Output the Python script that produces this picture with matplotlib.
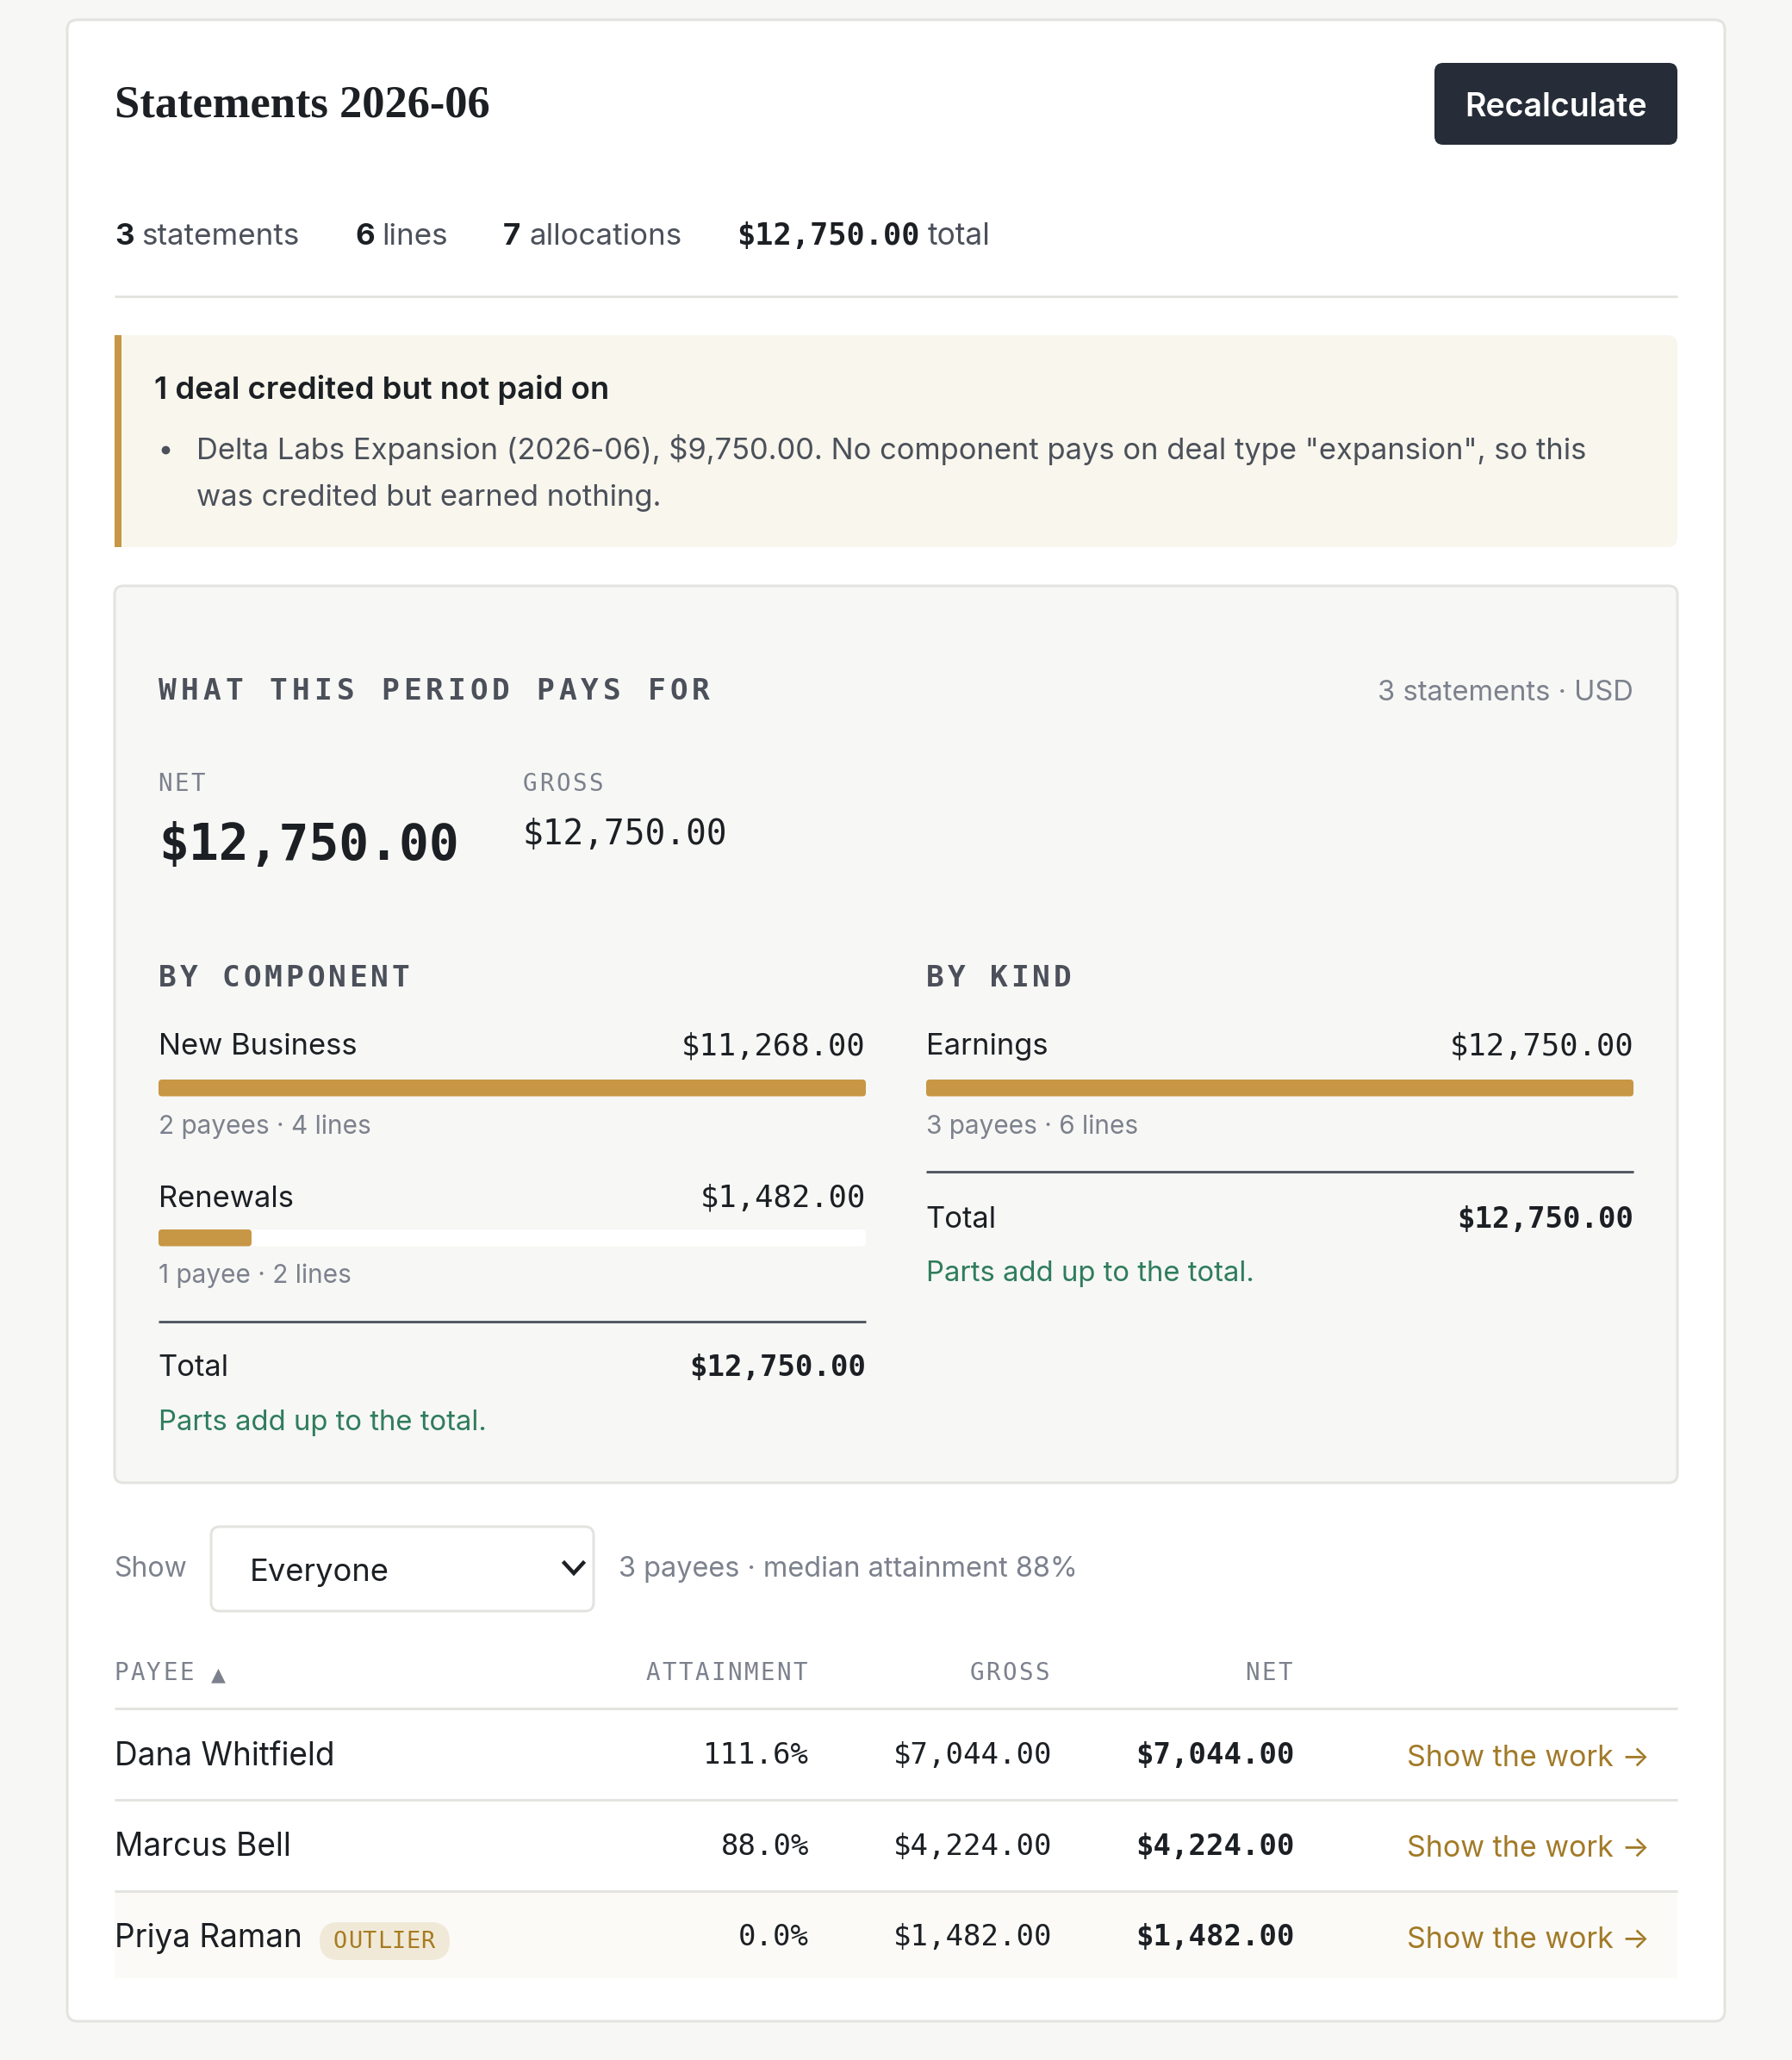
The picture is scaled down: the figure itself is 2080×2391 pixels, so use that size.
import matplotlib
matplotlib.use('Agg')
import matplotlib.pyplot as plt
from matplotlib.patches import FancyBboxPatch, Rectangle

# values
metric_counts = ['3', '6', '7']
metric_words = ['statements', 'lines', 'allocations']
period_total = 12750.00
period_net = 12750.00
period_gross = 12750.00

component_names = ['New Business', 'Renewals']
component_values = [11268.00, 1482.00]
component_notes = ['2 payees · 4 lines', '1 payee · 2 lines']

kind_names = ['Earnings']
kind_values = [12750.00]
kind_notes = ['3 payees · 6 lines']

payee_names = ['Dana Whitfield', 'Marcus Bell', 'Priya Raman']
payee_attainment = [111.6, 88.0, 0.0]
payee_gross = [7044.00, 4224.00, 1482.00]
payee_net = [7044.00, 4224.00, 1482.00]

PAGE = '#f7f7f5'
INK = '#1c2024'
BODY = '#4b505a'
MUTED = '#7c818d'
LINE = '#e3e3e0'
GOLD = '#c79745'
LINK = '#a27a28'
GREEN = '#2f7d5c'
SANS = 'Inter'
MONO = 'DejaVu Sans Mono'

fig = plt.figure(figsize=(2080 / 100, 2391 / 100), dpi=100, facecolor=PAGE)
ax = fig.add_axes([0, 0, 1, 1])
ax.set_xlim(0, 2080)
ax.set_ylim(2391, 0)
ax.axis('off')


def money(v):
    return f'${v:,.2f}'


def label(x, y, s, px, color=INK, family=SANS, weight='normal', ha='left'):
    return ax.text(x, y, s, fontsize=px * 0.72, color=color, family=family,
                   weight=weight, ha=ha, va='baseline')


def spaced(x, y, s, px, advance, color=MUTED, weight='normal', right=False):
    # matplotlib has no letter-spacing, so the mono caps go one by one
    if right:
        x = x - advance * (len(s) - 1) - px * 0.602
    for i, c in enumerate(s):
        if c != ' ':
            label(x + i * advance, y, c, px, color, MONO, weight)


def box(x0, y0, x1, y1, r, face, edge='none', lw=0):
    p = FancyBboxPatch((x0, y0), x1 - x0, y1 - y0, boxstyle=f'round,pad=0,rounding_size={r}',
                       facecolor=face, edgecolor=edge, linewidth=lw * 0.72)
    ax.add_patch(p)


def hline(x0, x1, y, color=LINE, lw=3):
    ax.plot([x0, x1], [y, y], color=color, lw=lw * 0.72, solid_capstyle='butt')


def breakdown(x0, x1, title, names, values, notes, rows, divider, total_y, ok_y):
    spaced(x0, 1145, title, 34.5, 24.6, color=BODY, weight='bold')
    top = max(values)
    for name, value, note, (name_y, bar_y, note_y) in zip(names, values, notes, rows):
        label(x0, name_y, name, 34.5)
        label(x1, name_y, money(value), 35.5, family=MONO, ha='right')
        box(x0, bar_y, x1, bar_y + 19.5, 4, 'white')
        box(x0, bar_y, x0 + (x1 - x0) * value / top, bar_y + 19.5, 4, GOLD)
        label(x0, note_y, note, 29.8, color=MUTED)
    hline(x0, x1, divider, color='#555a66')
    label(x0 - 1, total_y, 'Total', 34.5)
    label(x1, total_y, money(sum(values)), 34, family=MONO, weight='bold', ha='right')
    label(x0, ok_y, 'Parts add up to the total.', 32.8, color=GREEN)


# card
box(78, 23, 2002, 2346, 12, 'white', edge=LINE, lw=3)

# header
label(133, 135, 'Statements 2026-06', 52.5, family='Liberation Serif', weight='bold')
box(1665, 73, 1947, 168, 10, '#262d38')
label(1806, 135, 'Recalculate', 37.5, color='white', weight='semibold', ha='center')

# counts strip
for x, n, x2, w in zip([133, 412, 584], metric_counts, [164, 443, 615], metric_words):
    label(x, 284, n, 35, weight='bold')
    label(x2, 284, w, 35, color=BODY)
label(855, 284, money(period_total), 35.2, family=MONO, weight='bold')
label(1077, 284, 'total', 35.4, color=BODY)
hline(133, 1947, 344)

# alert
box(133, 389, 1947, 635, 12, '#f8f6ed')
ax.add_patch(Rectangle((133, 389), 8, 246, facecolor=GOLD, edgecolor='none'))
label(179, 463, '1 deal credited but not paid on', 36.4, weight='semibold')
ax.plot([192], [522], 'o', color=BODY, ms=6)
label(228, 533, 'Delta Labs Expansion (2026-06), $9,750.00. No component pays on deal type "expansion", so this', 34.5, color=BODY)
label(228, 587, 'was credited but earned nothing.', 34.5, color=BODY)

# summary panel
box(133, 680, 1947, 1721, 10, PAGE, edge=LINE, lw=3)
spaced(184, 812, 'WHAT THIS PERIOD PAYS FOR', 34.5, 25.8, color=BODY, weight='bold')
label(1896, 813, '3 statements · USD', 32.7, color=MUTED, ha='right')
spaced(183, 918, 'NET', 27.5, 19)
spaced(607, 918, 'GROSS', 27.5, 19)
label(184, 998.5, money(period_net), 58, family=MONO, weight='bold')
label(606, 980, money(period_gross), 39.5, family=MONO)

breakdown(184, 1005, 'BY COMPONENT', component_names, component_values, component_notes,
          [(1224, 1253, 1316), (1401, 1427, 1489)], 1534, 1597, 1660)
breakdown(1075, 1896, 'BY KIND', kind_names, kind_values, kind_notes,
          [(1224, 1253, 1316)], 1360, 1425, 1486.5)

# filter row
label(132, 1830, 'Show', 32, color=MUTED)
box(245, 1772, 689, 1870, 10, 'white', edge=LINE, lw=3)
label(290, 1835, 'Everyone', 36.3)
ax.plot([655, 666, 677], [1814, 1826, 1814], color=INK, lw=3.2, solid_joinstyle='miter')
label(718, 1830, '3 payees · median attainment 88%', 32.5, color=MUTED)

# table
spaced(132, 1950, 'PAYEE', 27.5, 19)
label(253, 1950, '▲', 22, color=MUTED, family='DejaVu Sans', ha='center')
spaced(937, 1950, 'ATTAINMENT', 27.5, 19, right=True)
spaced(1218, 1950, 'GROSS', 27.5, 19, right=True)
spaced(1500, 1950, 'NET', 27.5, 19, right=True)

ax.add_patch(Rectangle((133, 2195), 1814, 101, facecolor='#fbfaf6', edgecolor='none'))
for y in [1983, 2089, 2195]:
    hline(133, 1947, y)

name_y = [2049, 2154, 2260]
amount_y = [2047, 2153, 2258]
link_y = [2050, 2155, 2261]
for i, name in enumerate(payee_names):
    label(133, name_y[i], name, 37)
    label(939, amount_y[i], f'{payee_attainment[i]:.1f}%', 34, family=MONO, ha='right')
    label(1221, amount_y[i], money(payee_gross[i]), 34, family=MONO, ha='right')
    label(1503, amount_y[i], money(payee_net[i]), 34, family=MONO, weight='bold', ha='right')
    label(1633, link_y[i], 'Show the work →', 34, color=LINK)

box(371, 2231, 522, 2275, 22, '#f1e9d8')
spaced(387, 2261, 'OUTLIER', 27, 16.9, color='#a67c20')

fig.savefig('out.png', dpi=100, facecolor=PAGE)
